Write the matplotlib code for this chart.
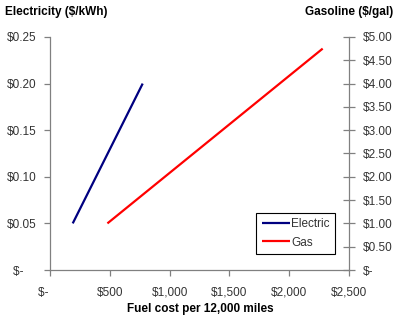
import matplotlib.pyplot as plt
from matplotlib.ticker import FuncFormatter, MultipleLocator

plt.rcParams['font.family'] = ['Liberation Sans', 'DejaVu Sans']

# fuel cost per 12,000 miles vs. energy price
elec_price = [0.05, 0.10, 0.15, 0.20]
elec_cost = [190, 385, 580, 775]
gas_price = [1.00, 2.00, 3.00, 4.00, 4.75]
gas_cost = [480, 960, 1440, 1920, 2280]

fig = plt.figure(figsize=(4.0, 3.32), dpi=100)
ax = fig.add_axes([0.125, 0.1867, 0.7475, 0.702])
ax2 = ax.twinx()

l1, = ax.plot(elec_cost, elec_price, color='#000080', lw=1.6, solid_capstyle='butt')
l2, = ax2.plot(gas_cost, gas_price, color='#ff0000', lw=1.6, solid_capstyle='butt')

ax.set_xlim(0, 2500)
ax.set_ylim(0, 0.25)
ax2.set_ylim(0, 5.0)
ax.xaxis.set_major_locator(MultipleLocator(500))
ax.yaxis.set_major_locator(MultipleLocator(0.05))
ax2.yaxis.set_major_locator(MultipleLocator(0.5))

def money_x(v, pos):
    return '$-    ' if v == 0 else '${:,.0f}'.format(v)

def money_left(v, pos):
    return '$-    ' if abs(v) < 1e-9 else '${:.2f}'.format(v)

def money_right(v, pos):
    return '$-' if abs(v) < 1e-9 else '${:.2f}'.format(v)

ax.xaxis.set_major_formatter(FuncFormatter(money_x))
ax.yaxis.set_major_formatter(FuncFormatter(money_left))
ax2.yaxis.set_major_formatter(FuncFormatter(money_right))

gray = '#808080'
for a in (ax, ax2):
    for s in a.spines.values():
        s.set_color(gray)
        s.set_linewidth(0.9)
    a.spines['top'].set_visible(False)
ax.spines['right'].set_visible(False)
ax2.spines['left'].set_visible(False)
ax2.spines['bottom'].set_visible(False)

ax.tick_params(axis='both', direction='out', length=4, width=0.9, color=gray,
               labelsize=8.5, labelcolor='#333333', pad=6)
ax.tick_params(axis='x', pad=8)
ax2.tick_params(axis='y', direction='inout', length=8, width=0.9, color=gray,
                labelsize=8.5, labelcolor='#333333', pad=6)

fig.text(0.013, 0.965, 'Electricity ($/kWh)', fontsize=8.5, fontweight='bold', va='center')
fig.text(0.983, 0.965, 'Gasoline ($/gal)', fontsize=8.5, fontweight='bold', va='center', ha='right')
fig.text(0.5, 0.068, 'Fuel cost per 12,000 miles', fontsize=8.5, fontweight='bold', ha='center', va='center')

leg = ax2.legend([l1, l2], ['Electric', 'Gas'], loc='lower right',
                 bbox_to_anchor=(0.953, 0.069), borderaxespad=0, fontsize=8.5,
                 fancybox=False, edgecolor='#000000', handlelength=2.4,
                 handletextpad=0.1, borderpad=0.45, labelspacing=0.55, framealpha=1)
leg.get_frame().set_linewidth(0.8)
for t in leg.get_texts():
    t.set_color('#333333')

fig.savefig('out.png', dpi=100)
